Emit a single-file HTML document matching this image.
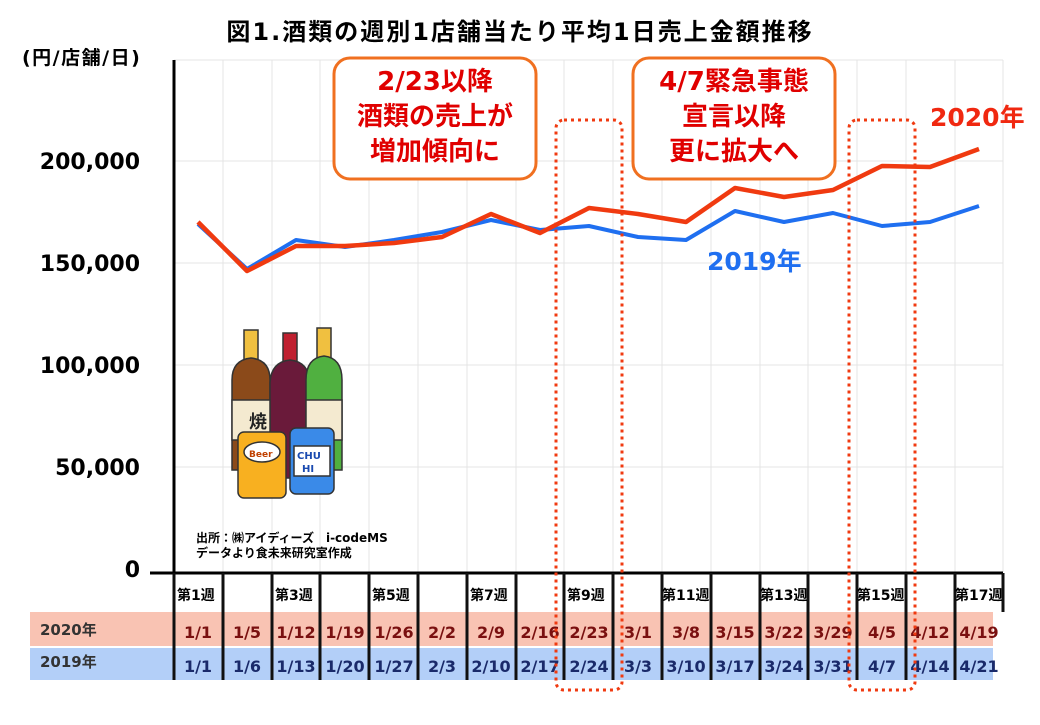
<!DOCTYPE html>
<html><head><meta charset="utf-8"><style>
body{margin:0;background:#fff;}
svg text{font-family:"DejaVu Sans","Noto Sans CJK JP",sans-serif;font-weight:bold;}
</style></head><body>
<svg width="1040" height="720" viewBox="0 0 1040 720" xmlns="http://www.w3.org/2000/svg">
<text x="520" y="40" font-size="24" text-anchor="middle" letter-spacing="2">図1.酒類の週別1店舗当たり平均1日売上金額推移</text>
<text x="22" y="64" font-size="19" letter-spacing="1.5">(円/店舗/日)</text>
<!-- grid -->
<g stroke="#e4e4e4" stroke-width="1">
<line x1="174" y1="161" x2="1003" y2="161"/><line x1="174" y1="263" x2="1003" y2="263"/>
<line x1="174" y1="365" x2="1003" y2="365"/><line x1="174" y1="467" x2="1003" y2="467"/>
<line x1="174" y1="60" x2="1003" y2="60"/>
<line x1="223" y1="60" x2="223" y2="572"/><line x1="272" y1="60" x2="272" y2="572"/><line x1="320" y1="60" x2="320" y2="572"/><line x1="369" y1="60" x2="369" y2="572"/><line x1="418" y1="60" x2="418" y2="572"/><line x1="467" y1="60" x2="467" y2="572"/><line x1="516" y1="60" x2="516" y2="572"/><line x1="564" y1="60" x2="564" y2="572"/><line x1="613" y1="60" x2="613" y2="572"/><line x1="662" y1="60" x2="662" y2="572"/><line x1="711" y1="60" x2="711" y2="572"/><line x1="760" y1="60" x2="760" y2="572"/><line x1="808" y1="60" x2="808" y2="572"/><line x1="857" y1="60" x2="857" y2="572"/><line x1="906" y1="60" x2="906" y2="572"/><line x1="955" y1="60" x2="955" y2="572"/><line x1="1003" y1="60" x2="1003" y2="572"/>
</g>
<line x1="174" y1="60" x2="174" y2="574" stroke="#000" stroke-width="3"/>
<g font-size="22" text-anchor="end">
<text x="140" y="169">200,000</text><text x="140" y="271">150,000</text><text x="140" y="373">100,000</text><text x="140" y="475">50,000</text><text x="140" y="577">0</text>
</g>
<!-- table -->
<rect x="30" y="612" width="963" height="34" fill="#f9c3b3"/>
<rect x="30" y="648" width="963" height="32" fill="#b3cff8"/>
<line x1="150" y1="573" x2="1003" y2="573" stroke="#000" stroke-width="3"/>
<g stroke="#101010" stroke-width="3">
<line x1="174" y1="573" x2="174" y2="680"/><line x1="223" y1="573" x2="223" y2="680"/><line x1="272" y1="573" x2="272" y2="680"/><line x1="320" y1="573" x2="320" y2="680"/><line x1="369" y1="573" x2="369" y2="680"/><line x1="418" y1="573" x2="418" y2="680"/><line x1="467" y1="573" x2="467" y2="680"/><line x1="516" y1="573" x2="516" y2="680"/><line x1="564" y1="573" x2="564" y2="680"/><line x1="613" y1="573" x2="613" y2="680"/><line x1="662" y1="573" x2="662" y2="680"/><line x1="711" y1="573" x2="711" y2="680"/><line x1="760" y1="573" x2="760" y2="680"/><line x1="808" y1="573" x2="808" y2="680"/><line x1="857" y1="573" x2="857" y2="680"/><line x1="906" y1="573" x2="906" y2="680"/><line x1="955" y1="573" x2="955" y2="680"/><line x1="1003" y1="573" x2="1003" y2="612"/>
</g>
<g font-size="14">
<text x="177" y="600">第1週</text><text x="275" y="600">第3週</text><text x="372" y="600">第5週</text><text x="470" y="600">第7週</text><text x="567" y="600">第9週</text><text x="662" y="600">第11週</text><text x="760" y="600">第13週</text><text x="857" y="600">第15週</text><text x="955" y="600">第17週</text>
</g>
<text x="40" y="635" font-size="15" fill="#333">2020年</text>
<text x="40" y="667" font-size="15" fill="#333">2019年</text>
<g font-size="16" fill="#7a1010" text-anchor="middle">
<text x="198" y="638">1/1</text><text x="247" y="638">1/5</text><text x="296" y="638">1/12</text><text x="345" y="638">1/19</text><text x="394" y="638">1/26</text><text x="442" y="638">2/2</text><text x="491" y="638">2/9</text><text x="540" y="638">2/16</text><text x="589" y="638">2/23</text><text x="638" y="638">3/1</text><text x="686" y="638">3/8</text><text x="735" y="638">3/15</text><text x="784" y="638">3/22</text><text x="833" y="638">3/29</text><text x="882" y="638">4/5</text><text x="930" y="638">4/12</text><text x="979" y="638">4/19</text>
</g>
<g font-size="16" fill="#1a2a6a" text-anchor="middle">
<text x="198" y="672">1/1</text><text x="247" y="672">1/6</text><text x="296" y="672">1/13</text><text x="345" y="672">1/20</text><text x="394" y="672">1/27</text><text x="442" y="672">2/3</text><text x="491" y="672">2/10</text><text x="540" y="672">2/17</text><text x="589" y="672">2/24</text><text x="638" y="672">3/3</text><text x="686" y="672">3/10</text><text x="735" y="672">3/17</text><text x="784" y="672">3/24</text><text x="833" y="672">3/31</text><text x="882" y="672">4/7</text><text x="930" y="672">4/14</text><text x="979" y="672">4/21</text>
</g>
<!-- series -->
<polyline fill="none" stroke="#1f6ff0" stroke-width="4" stroke-linejoin="round" points="198,224 247,269 296,240 345,247 394,240 442,232 491,220 540,230 589,226 638,237 686,240 735,211 784,222 833,213 882,226 930,222 979,206"/>
<polyline fill="none" stroke="#f03a10" stroke-width="4.5" stroke-linejoin="round" points="198,222 247,271 296,246 345,246 394,243 442,237 491,214 540,233 589,208 638,214 686,222 735,188 784,197 833,190 882,166 930,167 979,149"/>
<!-- dotted boxes -->
<rect x="556" y="120" width="66" height="570" rx="8" fill="none" stroke="#f03a10" stroke-width="3" stroke-dasharray="3,4"/>
<rect x="849" y="120" width="66" height="570" rx="8" fill="none" stroke="#f03a10" stroke-width="3" stroke-dasharray="3,4"/>
<!-- callouts -->
<rect x="334" y="58" width="202" height="121" rx="16" fill="#fff" stroke="#f07020" stroke-width="3"/>
<g font-size="26" fill="#e00000" text-anchor="middle"><text x="435" y="90">2/23以降</text><text x="435" y="125">酒類の売上が</text><text x="435" y="160">増加傾向に</text></g>
<rect x="633" y="58" width="202" height="121" rx="16" fill="#fff" stroke="#f07020" stroke-width="3"/>
<g font-size="26" fill="#e00000" text-anchor="middle"><text x="734" y="90">4/7緊急事態</text><text x="734" y="125">宣言以降</text><text x="734" y="160">更に拡大へ</text></g>
<text x="930" y="126" font-size="25" fill="#f02810">2020年</text>
<text x="707" y="270" font-size="25" fill="#1f6ff0">2019年</text>
<!-- illustration -->
<g stroke="#333" stroke-width="1.5">
<rect x="244" y="330" width="14" height="30" fill="#f0c040"/>
<path d="M232,380 Q232,360 251,358 Q270,360 270,380 L270,470 L232,470Z" fill="#8b4a1a"/>
<rect x="283" y="333" width="14" height="30" fill="#c02030"/>
<path d="M270,385 Q270,362 290,360 Q310,362 310,385 L310,478 L270,478Z" fill="#6a1a3a"/>
<rect x="317" y="328" width="14" height="30" fill="#f0c040"/>
<path d="M306,380 Q306,358 324,356 Q342,358 342,380 L342,470 L306,470Z" fill="#50b040"/>
<rect x="232" y="400" width="38" height="40" fill="#f4ead0"/>
<rect x="306" y="400" width="36" height="40" fill="#f4ead0"/>
<rect x="238" y="432" width="48" height="66" rx="6" fill="#f8b020"/>
<ellipse cx="262" cy="452" rx="18" ry="10" fill="#fff"/>
<rect x="290" y="428" width="44" height="66" rx="6" fill="#3a8ae8"/>
<rect x="294" y="446" width="36" height="30" fill="#fff"/>
</g>
<text x="249" y="428" font-size="18" fill="#222">焼</text>
<text x="249" y="457" font-size="9" fill="#c04000">Beer</text>
<text x="297" y="459" font-size="10" fill="#1a4ab0">CHU</text>
<text x="302" y="472" font-size="10" fill="#1a4ab0">HI</text>
<text x="196" y="542" font-size="12">出所：㈱アイディーズ　i-codeMS</text>
<text x="196" y="557" font-size="12">データより食未来研究室作成</text>
</svg>
</body></html>
